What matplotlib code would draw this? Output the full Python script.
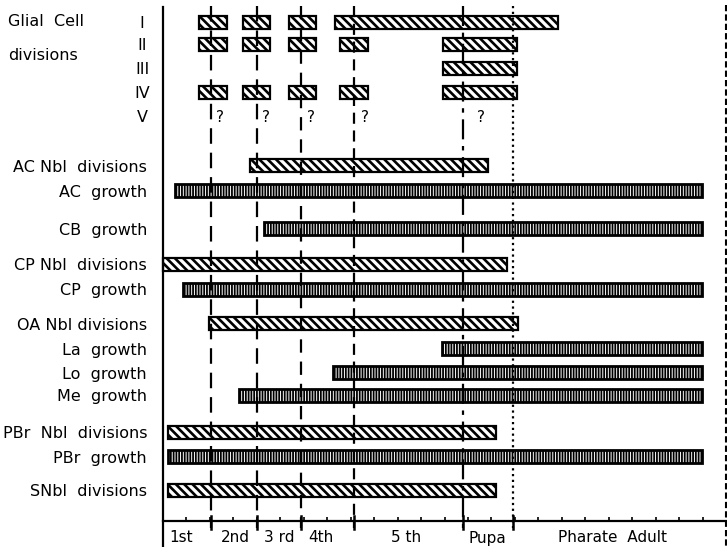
import matplotlib
matplotlib.use('Agg')
import matplotlib.pyplot as plt
import numpy as np

plt.rcParams['font.family'] = ['DejaVu Sans']
plt.rcParams['hatch.linewidth'] = 1.6

# ---------------- data (time in days) ----------------
stage_names = ['1st', '2nd', '3 rd', '4th', '5 th', 'Pupa', 'Pharate  Adult']
stage_bounds = [2.05, 4.0, 5.9, 8.15, 12.8, 14.9]
stage_label_x = [0.77, 3.07, 4.94, 6.73, 10.36, 13.81, 19.14]
end_day = 24.0

glial_names = ['I', 'II', 'III', 'IV', 'V']
glial_I = [(1.53, 2.73), (3.41, 4.56), (5.37, 6.52), (7.33, 16.84)]
glial_II = [(1.53, 2.73), (3.41, 4.56), (5.37, 6.52), (7.54, 8.74), (11.94, 15.09)]
glial_III = [(11.94, 15.09)]
glial_IV = [(1.53, 2.73), (3.41, 4.56), (5.37, 6.52), (7.54, 8.74), (11.94, 15.09)]
glial_V_unknown = [2.26, 4.22, 6.14, 8.44, 13.38]

tissue_labels = ['AC Nbl  divisions', 'AC  growth', 'CB  growth',
                 'CP Nbl  divisions', 'CP  growth', 'OA Nbl divisions',
                 'La  growth', 'Lo  growth', 'Me  growth',
                 'PBr  Nbl  divisions', 'PBr  growth', 'SNbl  divisions']
tissue_start = [3.71, 0.51, 4.31, 0.0, 0.85, 1.96, 11.89, 7.25, 3.24, 0.21, 0.21, 0.21]
tissue_end = [13.85, 22.98, 22.98, 14.66, 22.98, 15.13, 22.98, 22.98, 22.98, 14.19, 22.98, 14.19]
tissue_kind = ['div', 'growth', 'growth', 'div', 'growth', 'div',
               'growth', 'growth', 'growth', 'div', 'growth', 'div']

# ---------------- layout ----------------
W, H = 727, 547
px_per_day = 23.46
x0_px = 163
glial_y = [22, 44, 68, 92, 117]
tissue_y = [165, 190, 228, 264, 289, 323, 348, 372, 395, 432, 456, 490]
axis_y = 521
bar_h = 13

fig = plt.figure(figsize=(W / 100, H / 100), dpi=100)
ax = fig.add_axes([0, 0, 1, 1])
ax.set_xlim(-x0_px / px_per_day, (W - x0_px) / px_per_day)
ax.set_ylim(H, 0)
ax.axis('off')

styles = {
    'div': dict(hatch='\\\\\\\\', linewidth=1.6, hlw=1.9),
    'growth': dict(hatch='||||||', linewidth=2.0, hlw=1.3),
}


def draw_bar(y, s, e, kind):
    st = styles[kind]
    bars = ax.barh(y, e - s, left=s, height=bar_h, color='white',
                   edgecolor='black', linewidth=st['linewidth'],
                   hatch=st['hatch'], zorder=2)
    for b in bars:
        if hasattr(b, 'set_hatch_linewidth'):
            b.set_hatch_linewidth(st['hlw'])


# glial rows
for rows, y in zip([glial_I, glial_II, glial_III, glial_IV], glial_y[:4]):
    for s, e in rows:
        draw_bar(y, s, e, 'div')
for xq in glial_V_unknown:
    ax.text(xq, glial_y[4], '?', fontsize=11, ha='left', va='center', zorder=4)

ax.text(-155 / px_per_day, glial_y[0], 'Glial  Cell', fontsize=11.5, ha='left', va='center')
ax.text(-155 / px_per_day, 55, 'divisions', fontsize=11.5, ha='left', va='center')
for name, y in zip(glial_names, glial_y):
    ax.text(-21 / px_per_day, y + 1, name, fontsize=11.5, ha='center', va='center')

# tissue rows
for lab, s, e, k, y in zip(tissue_labels, tissue_start, tissue_end, tissue_kind, tissue_y):
    draw_bar(y, s, e, k)
    ax.text(-16 / px_per_day, y + 2, lab, fontsize=11.5, ha='right', va='center')

# stage boundary lines
line_styles = [(0, (7, 4)), (0, (7, 4)), (0, (6, 4)), (0, (5, 3)), (0, (9, 3, 2, 3)), (0, (1, 1.6))]
for xb, ls in zip(stage_bounds, line_styles):
    ax.plot([xb, xb], [6, 528], color='black', lw=1.6, linestyle=ls, zorder=3)

# left solid line and right dashed border
ax.plot([0, 0], [7, H], color='black', lw=1.6, zorder=3)
ax.plot([end_day, end_day], [5, H], color='black', lw=1.5, linestyle=(0, (3, 1.5)), zorder=3)

# bottom time axis
ax.plot([0, end_day + 0.05], [axis_y, axis_y], color='black', lw=1.6, zorder=3)
minor = np.arange(1, 24)
ax.plot(minor, [axis_y] * len(minor), linestyle='none', marker=2, markersize=3,
        color='black', markeredgewidth=1.2, zorder=3)
for xb in stage_bounds:
    ax.plot([xb, xb], [516, 529], color='black', lw=1.8, zorder=3)

for name, xl in zip(stage_names, stage_label_x):
    ax.text(xl, 538, name, fontsize=11, ha='center', va='center')

fig.savefig('out.png', dpi=100)
